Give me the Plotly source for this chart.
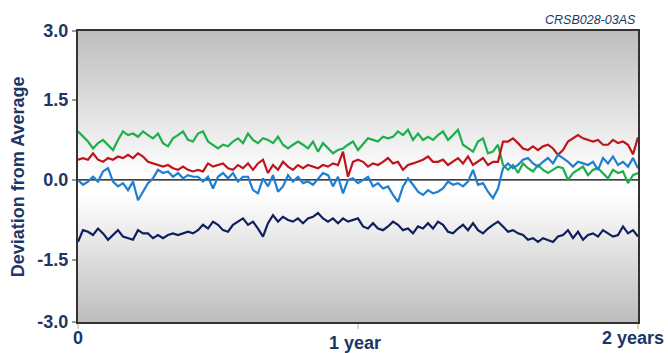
import numpy as np
import plotly.graph_objects as go

# ---- data (deviation from average) ----
green = [0.91,0.81,0.72,0.59,0.69,0.75,0.66,0.56,0.75,0.91,0.84,0.87,0.81,0.91,0.84,0.78,0.87,0.69,0.63,0.78,0.84,0.91,0.75,0.72,0.87,0.91,0.72,0.66,
         0.59,0.66,0.63,0.72,0.78,0.69,0.87,0.75,0.69,0.78,0.75,0.69,0.81,0.66,0.59,0.66,0.72,0.66,0.59,0.72,0.53,0.69,0.59,0.50,0.56,0.59,0.66,0.72,
         0.56,0.66,0.78,0.75,0.72,0.81,0.78,0.81,0.91,0.84,0.94,0.75,0.87,0.75,0.81,0.75,0.84,0.91,0.75,0.84,0.94,0.66,0.59,0.53,0.72,0.78,0.50,0.53,0.66,
         0.28,0.19,0.28,0.13,0.31,0.22,0.16,0.28,0.19,0.13,0.19,0.25,0.22,0.00,0.13,0.19,0.25,0.09,0.19,0.22,0.13,0.03,0.19,0.13,0.16,-0.06,0.09,0.13]

red = [0.38,0.41,0.38,0.50,0.38,0.34,0.41,0.38,0.44,0.41,0.47,0.41,0.50,0.44,0.34,0.31,0.28,0.25,0.28,0.22,0.19,0.25,0.19,0.16,0.19,0.16,0.31,0.25,
       0.28,0.31,0.22,0.19,0.28,0.22,0.31,0.19,0.31,0.38,0.13,0.28,0.19,0.34,0.25,0.19,0.28,0.22,0.28,0.25,0.22,0.28,0.25,0.31,0.28,0.53,0.06,0.34,
       0.38,0.34,0.25,0.31,0.28,0.34,0.41,0.31,0.34,0.19,0.28,0.31,0.34,0.38,0.44,0.34,0.34,0.38,0.28,0.34,0.41,0.31,0.44,0.28,0.34,0.41,0.28,0.34,0.34,
       0.72,0.72,0.78,0.69,0.59,0.56,0.63,0.56,0.63,0.66,0.59,0.47,0.56,0.72,0.78,0.84,0.78,0.75,0.72,0.75,0.66,0.66,0.75,0.69,0.72,0.66,0.48,0.80]

blue = [0.00,-0.09,-0.03,0.06,-0.03,0.16,0.22,-0.03,-0.12,-0.06,-0.19,-0.03,-0.38,-0.22,-0.06,0.03,0.19,0.13,0.16,0.06,0.13,0.03,0.09,0.06,0.06,-0.03,0.06,-0.16,
        0.06,0.13,0.03,0.13,-0.03,0.06,0.06,-0.19,-0.25,0.03,-0.12,0.09,-0.22,-0.12,0.09,-0.03,0.06,-0.06,-0.03,-0.09,0.03,0.13,0.09,-0.12,0.06,-0.25,0.00,0.03,
        -0.06,0.00,0.06,-0.12,-0.06,-0.16,-0.12,-0.28,-0.41,-0.12,0.03,-0.09,-0.22,-0.28,-0.19,-0.25,-0.22,-0.16,-0.03,-0.09,-0.06,-0.12,-0.03,0.19,-0.09,-0.06,-0.22,-0.34,-0.16,
        0.22,0.31,0.22,0.28,0.38,0.41,0.31,0.25,0.34,0.41,0.31,0.47,0.41,0.34,0.25,0.34,0.31,0.28,0.34,0.19,0.41,0.31,0.44,0.28,0.34,0.25,0.41,0.22]

navy = [-1.16,-0.94,-0.97,-1.03,-0.91,-1.00,-1.12,-1.03,-0.94,-1.06,-1.09,-1.12,-0.94,-1.00,-1.00,-1.09,-1.03,-1.09,-1.03,-1.00,-1.03,-1.00,-0.97,-1.00,-0.94,-0.84,-0.91,-0.78,
        -0.84,-0.94,-0.97,-0.84,-0.78,-0.72,-0.84,-0.78,-0.91,-1.06,-0.81,-0.66,-0.78,-0.69,-0.75,-0.78,-0.72,-0.81,-0.72,-0.69,-0.62,-0.72,-0.78,-0.72,-0.81,-0.72,-0.78,-0.75,
        -0.72,-0.87,-0.91,-0.81,-0.91,-0.94,-0.87,-0.78,-0.84,-0.94,-0.91,-1.00,-0.87,-0.91,-0.81,-0.91,-0.78,-0.84,-0.97,-1.00,-0.91,-0.84,-0.94,-0.81,-0.94,-1.00,-0.91,-0.84,-0.78,
        -0.87,-0.97,-0.94,-1.00,-1.03,-1.12,-1.09,-1.16,-1.09,-1.12,-1.16,-1.06,-1.03,-0.94,-1.09,-0.97,-1.12,-1.03,-1.00,-1.06,-0.94,-1.00,-1.06,-1.03,-0.87,-1.00,-0.94,-1.06]

x_years = np.linspace(0, 2, len(green))

y_tick_labels = ["-3.0", "-1.5", "0.0", "1.5", "3.0"]
x_tick_labels = ["0", "1 year", "2 years"]

Y_MIN, Y_MAX = -2.66, 2.79
TEXT = "#1C3766"
FONT = "Liberation Sans"

fig = go.Figure()

# background vertical gradient
fig.add_trace(go.Scatter(
    x=[0, 2, 2, 0, 0], y=[Y_MIN, Y_MIN, Y_MAX, Y_MAX, Y_MIN],
    mode="lines", line=dict(width=0), fill="toself",
    fillgradient=dict(type="vertical",
                      colorscale=[[0, "#bdbdbd"], [0.44, "#ffffff"], [0.5, "#ffffff"], [1, "#bdbdbd"]]),
    hoverinfo="skip", showlegend=False))

# zero reference line
fig.add_trace(go.Scatter(x=[0, 2], y=[0, 0], mode="lines",
                         line=dict(color="black", width=1.2),
                         hoverinfo="skip", showlegend=False))

for ys, col in [(green, "#1DAF4B"), (red, "#C0141C"), (blue, "#1E7ED2"), (navy, "#0E1F5E")]:
    fig.add_trace(go.Scatter(x=x_years, y=ys, mode="lines",
                             line=dict(color=col, width=2.2), showlegend=False))

fig.update_layout(
    width=668, height=353,
    margin=dict(l=78, r=30, t=31, b=31),
    paper_bgcolor="white", plot_bgcolor="white",
    font=dict(family=FONT, color=TEXT),
    xaxis=dict(range=[0, 2], tickvals=[0, 1, 2], ticktext=["", "", ""],
               ticks="outside", ticklen=5, tickcolor="#dedab8", tickwidth=1.5,
               showgrid=False, zeroline=False,
               showline=True, linecolor="#333333", linewidth=2, mirror=True),
    yaxis=dict(range=[Y_MIN, Y_MAX], tickvals=[Y_MIN, -1.5, 0, 1.5, Y_MAX],
               ticktext=y_tick_labels,
               ticks="outside", ticklen=4, tickcolor="#9a9a9a", tickwidth=1.5,
               tickfont=dict(family=FONT, size=18, color=TEXT, weight="bold"),
               showgrid=False, zeroline=False,
               showline=True, linecolor="#333333", linewidth=2, mirror=True),
    annotations=[
        dict(text="Deviation from Average", textangle=-90, xref="paper", yref="paper",
             x=-0.107, y=0.498, xanchor="center", yanchor="middle", showarrow=False,
             font=dict(family=FONT, size=18, color=TEXT, weight="bold")),
        dict(text=x_tick_labels[0], xref="x", yref="paper", x=0, y=-0.055,
             xanchor="center", yanchor="middle", showarrow=False,
             font=dict(family=FONT, size=18, color=TEXT, weight="bold")),
        dict(text=x_tick_labels[1], xref="x", yref="paper", x=1, y=-0.072, xshift=-3,
             xanchor="center", yanchor="middle", showarrow=False,
             font=dict(family=FONT, size=18, color=TEXT, weight="bold")),
        dict(text=x_tick_labels[2], xref="x", yref="paper", x=2, y=-0.055, xshift=-5,
             xanchor="center", yanchor="middle", showarrow=False,
             font=dict(family=FONT, size=18, color=TEXT, weight="bold")),
        dict(text="CRSB028-03AS", xref="paper", yref="paper", x=1, y=1.038,
             xanchor="right", yanchor="middle", showarrow=False,
             font=dict(family=FONT, size=12.5, color=TEXT, style="italic")),
    ],
)

fig.write_html("out.html")
